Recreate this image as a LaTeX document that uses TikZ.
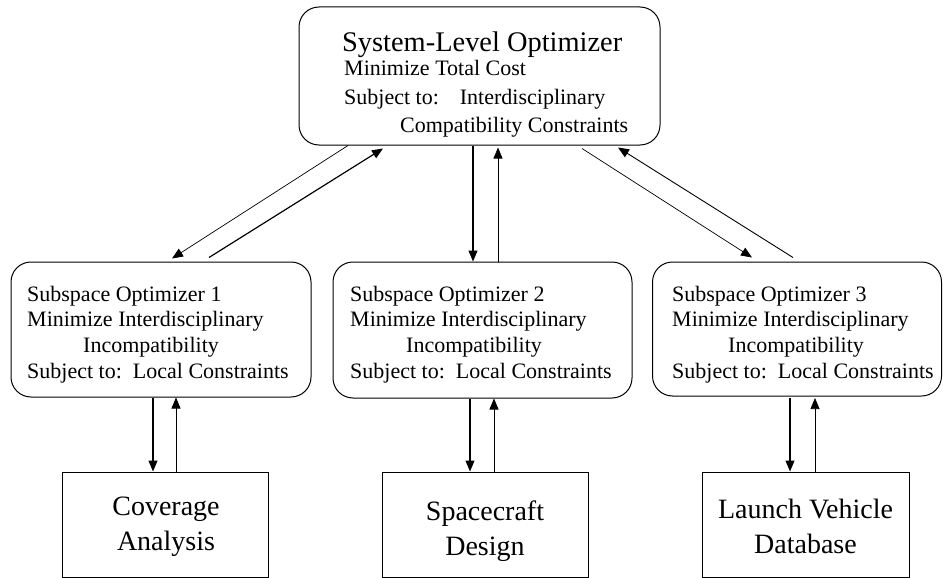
\documentclass[tikz,border=0pt]{standalone}
\usepackage{fontspec}
\setmainfont{Liberation Serif}
\usetikzlibrary{arrows.meta}
\begin{document}
\begin{tikzpicture}[x=1pt,y=-1pt,
  rbox/.style={draw, line width=1pt, rounded corners=20pt, inner sep=0pt},
  sbox/.style={draw, line width=1pt, inner sep=0pt},
  txt/.style={anchor=base west, inner sep=0pt, font=\fontsize{22}{26}\selectfont},
  ttl/.style={anchor=base west, inner sep=0pt, font=\fontsize{28.4}{32}\selectfont},
  btxt/.style={align=center, inner sep=0pt, font=\fontsize{28}{35}\selectfont},
  thinarr/.style={line width=0.7pt, -{Triangle[length=11pt,width=9pt]}},
  thickarr/.style={line width=1.2pt, -{Triangle[length=11pt,width=9pt]}}]
\useasboundingbox (0,0) rectangle (943,578);

% system-level optimizer
\node[rbox, minimum width=361pt, minimum height=138pt] (top) at (479.5,76) {};
\node[ttl] (topt1) at (342,52) {System-Level Optimizer};
\node[txt] (topt2) at (344,76) {Minimize Total Cost};
\node[txt] (topt3) at (344,104) {Subject to:\hspace{21pt}Interdisciplinary};
\node[txt] (topt4) at (400,132) {Compatibility Constraints};

% subspace optimizers
\node[rbox, minimum width=300pt, minimum height=135pt] (so1) at (161,329.5) {};
\node[rbox, minimum width=299pt, minimum height=136pt] (so2) at (482.5,330) {};
\node[rbox, minimum width=289pt, minimum height=134pt] (so3) at (797,329) {};

\foreach \b/\x/\n in {so1/27/1, so2/350/2, so3/672/3}{
  \node[txt] (\b a) at (\x,301) {Subspace Optimizer \n};
  \node[txt] (\b b) at (\x,326) {Minimize Interdisciplinary};
  \node[txt] (\b c) at (\x+56,352) {Incompatibility};
  \node[txt] (\b d) at (\x,378) {Subject to:\hspace{11pt}Local Constraints};
}

% analysis modules
\node[sbox, minimum width=206pt, minimum height=105pt] (cov) at (165,524.5) {};
\node[sbox, minimum width=206pt, minimum height=105pt] (sc) at (485,524.5) {};
\node[sbox, minimum width=207pt, minimum height=105pt] (lv) at (805.5,524.5) {};
\node[btxt] (covt) at (166,527) {Coverage\\Analysis};
\node[btxt] (sct) at (485,531) {Spacecraft\\Design};
\node[btxt] (lvt) at (805.5,526) {Launch Vehicle\\Database};

% system level <-> subspace 1
\draw[thinarr]  (348,0 |- top.south) -- ([shift={(0,-3)}]172,0 |- so1.north);
\draw[thickarr] ([shift={(0,-4)}]209,0 |- so1.north) -- ([shift={(0,3)}]383,0 |- top.south);
% system level <-> subspace 2
\draw[thickarr] (473,0 |- top.south) -- (473,0 |- so2.north);
\draw[thinarr]  (498,0 |- so2.north) -- ([shift={(0,2)}]498,0 |- top.south);
% system level <-> subspace 3
\draw[thinarr]  ([shift={(0,3)}]582,0 |- top.south) -- ([shift={(0,-4)}]752,0 |- so3.north);
\draw[line width=0.9pt, -{Triangle[length=11pt,width=9pt]}] ([shift={(0,-4)}]793,0 |- so3.north) -- ([shift={(0,2)}]618,0 |- top.south);

% subspace optimizers <-> analysis modules
\draw[thickarr] (153,0 |- so1.south) -- (153,0 |- cov.north);
\draw[thinarr]  (176,0 |- cov.north) -- (176,0 |- so1.south);
\draw[thickarr] (470,0 |- so2.south) -- (470,0 |- sc.north);
\draw[thinarr]  (494,0 |- sc.north) -- (494,0 |- so2.south);
\draw[thickarr] (790,398) -- (790,0 |- lv.north);
\draw[thinarr]  (815,0 |- lv.north) -- (815,398);
\end{tikzpicture}
\end{document}
